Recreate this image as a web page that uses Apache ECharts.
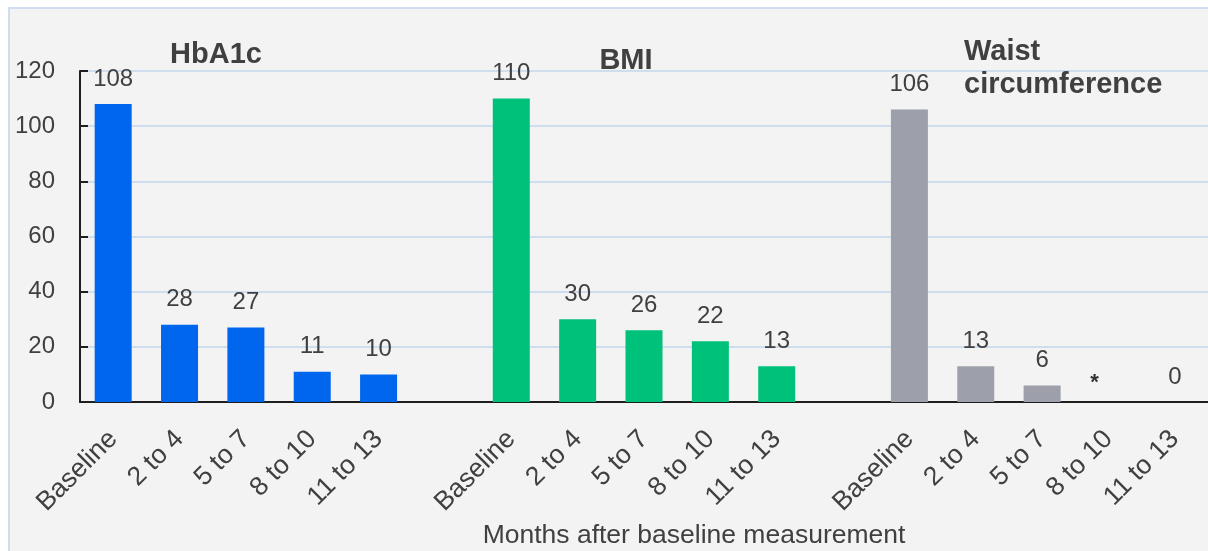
<!DOCTYPE html>
<html>
<head>
<meta charset="utf-8">
<title>Participants by months after baseline measurement</title>
<script src="https://cdn.jsdelivr.net/npm/echarts@6/dist/echarts.min.js"></script>
<style>
  html, body { margin: 0; padding: 0; background: #ffffff; }
  #frame {
    position: absolute; left: 8px; top: 7px; right: 0; bottom: 0;
    background: #f3f3f3;
    border-left: 2px solid #cfdeee;
    border-top: 2px solid #cfdeee;
  }
  #chart { position: absolute; left: 0; top: 0; width: 1208px; height: 551px; }
</style>
</head>
<body>
<div id="frame"></div>
<div id="chart"></div>
<script>
// Time windows after the baseline measurement (months)
const periods = ['Baseline', '2 to 4', '5 to 7', '8 to 10', '11 to 13'];

// Counts per measure and period (null = not reported)
const hba1cCounts = [108, 28, 27, 11, 10];
const bmiCounts = [110, 30, 26, 22, 13];
const waistCounts = [106, 13, 6, null, 0];

// Footnote marker shown where waist data were not reported
const waistFootnotePeriod = '8 to 10';
const waistFootnoteMark = '*';

const groupTitles = ['HbA1c', 'BMI', 'Waist\ncircumference'];
const yTicks = { min: 0, max: 120, interval: 20 };
const xAxisTitle = 'Months after baseline measurement';

const FONT = '"Liberation Sans", Arial, Helvetica, sans-serif';
const TEXT = '#404040';

// Three groups of five periods, with an empty slot between groups
const groups = [hba1cCounts, bmiCounts, waistCounts];
const slotsPerGroup = periods.length + 1;
const categories = [];
groups.forEach((g, gi) => {
  periods.forEach(p => categories.push(p));
  if (gi < groups.length - 1) categories.push('');
});

function spread(values, groupIndex) {
  const out = categories.map(() => null);
  values.forEach((v, i) => { out[groupIndex * slotsPerGroup + i] = v; });
  return out;
}

const footnoteIndex = 2 * slotsPerGroup + periods.indexOf(waistFootnotePeriod);

const colors = ['#0066ee', '#00c17a', '#9da0aa'];

const valueLabel = {
  show: true,
  position: 'top',
  distance: 13,
  fontFamily: FONT,
  fontSize: 24,
  color: TEXT
};

const titleStyle = { fontFamily: FONT, fontSize: 29, fontWeight: 'bold', color: TEXT };

const chart = echarts.init(document.getElementById('chart'), null, { renderer: 'canvas' });

chart.setOption({
  backgroundColor: 'transparent',
  animation: false,
  textStyle: { fontFamily: FONT },
  title: [
    { text: groupTitles[0], left: 216, top: 40, padding: 0, textAlign: 'center',
      textStyle: titleStyle },
    { text: groupTitles[1], left: 626, top: 46, padding: 0, textAlign: 'center',
      textStyle: titleStyle },
    { text: groupTitles[2], left: 964, top: 35, padding: 0, textAlign: 'left',
      textStyle: Object.assign({}, titleStyle, { lineHeight: 33 }) },
    { text: xAxisTitle, left: 694, top: 522, padding: 0, textAlign: 'center',
      textStyle: { fontFamily: FONT, fontSize: 26.5, fontWeight: 'normal', color: TEXT } }
  ],
  grid: { left: 80, top: 71, width: 1130.5, height: 331, containLabel: false },
  xAxis: {
    type: 'category',
    data: categories,
    axisLine: { show: true, lineStyle: { color: '#1e1e1e', width: 2 } },
    axisTick: { show: false },
    axisLabel: {
      interval: 0,
      rotate: 45,
      margin: 33,
      fontFamily: FONT,
      fontSize: 26.5,
      color: TEXT
    },
    splitLine: { show: false }
  },
  yAxis: {
    type: 'value',
    min: yTicks.min,
    max: yTicks.max,
    interval: yTicks.interval,
    axisLine: { show: true, lineStyle: { color: '#1e1e1e', width: 2 } },
    axisTick: { show: true, inside: true, length: 8, lineStyle: { color: '#1e1e1e', width: 2 } },
    axisLabel: { margin: 25, fontFamily: FONT, fontSize: 24, color: TEXT },
    splitLine: { show: true, lineStyle: { color: '#cfdeee', width: 2 } }
  },
  series: [
    ...groups.map((g, gi) => ({
      type: 'bar',
      data: spread(g, gi),
      barWidth: 37,
      barGap: '-100%',
      itemStyle: { color: colors[gi] },
      label: valueLabel,
      z: 3
    })),
    {
      type: 'scatter',
      data: [[footnoteIndex, 0]],
      symbolSize: 0,
      silent: true,
      label: {
        show: true,
        position: 'inside',
        formatter: waistFootnoteMark,
        offset: [-14, -19],
        fontFamily: FONT,
        fontSize: 22,
        fontWeight: 'bold',
        color: '#000000'
      },
      z: 4
    }
  ]
});
</script>
</body>
</html>
